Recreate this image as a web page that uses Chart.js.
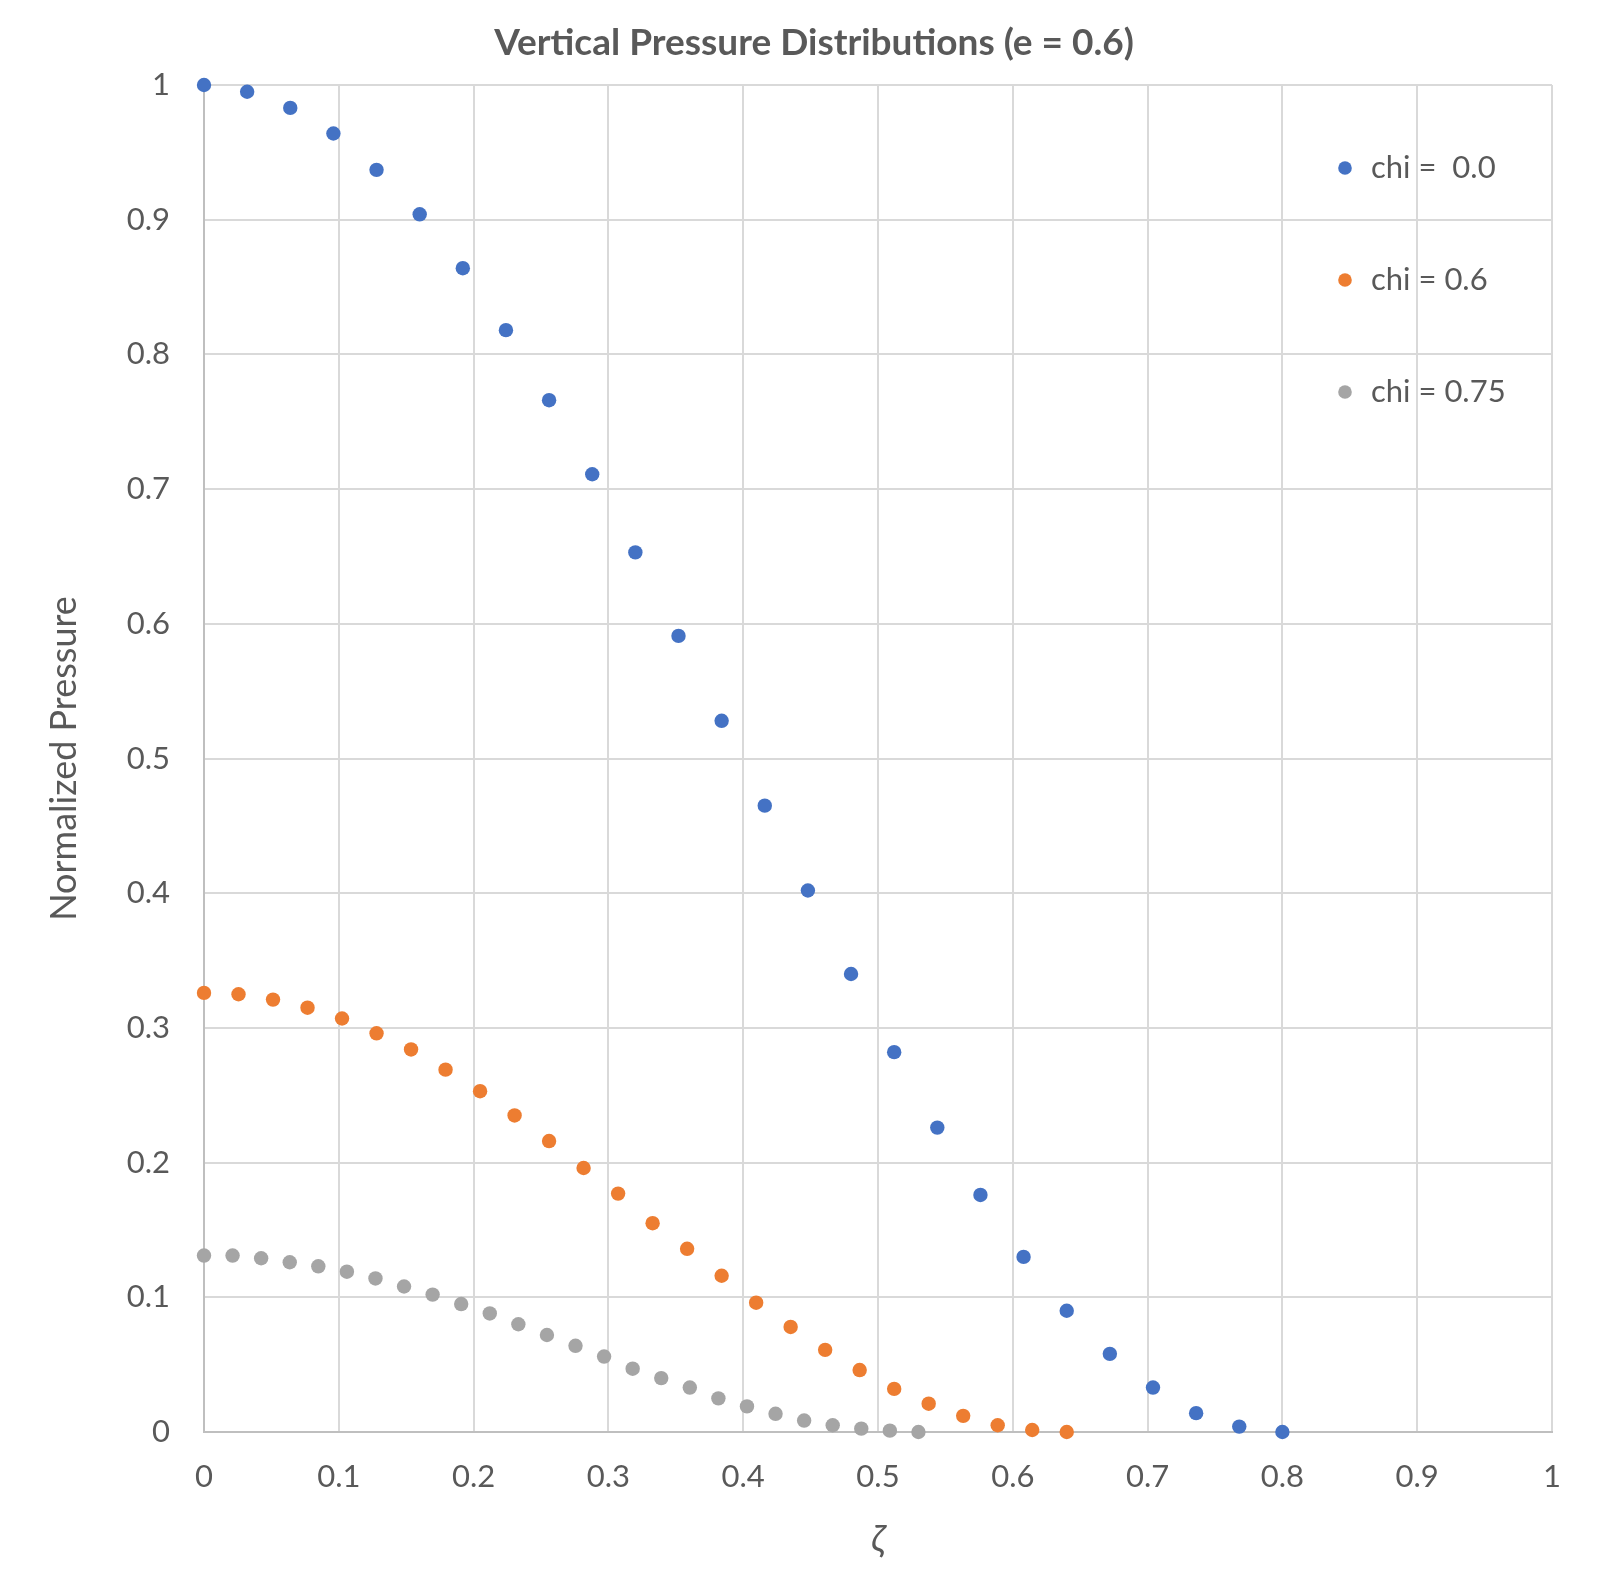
<!DOCTYPE html>
<html>
<head>
<meta charset="utf-8">
<script src="https://cdn.jsdelivr.net/npm/chart.js@4"></script>
<style>
    html, body { margin: 0; padding: 0; background: #fff; }
    #chart { display: block; }
</style>
</head>
<body>
<canvas id="chart" width="1610" height="1592"></canvas>
<script>
    const seriesLabels = ['chi =  0.0', 'chi = 0.6', 'chi = 0.75'];
    const seriesColors = ['#4472C4', '#ED7D31', '#A5A5A5'];

    const chi00X = [0, 0.032, 0.064, 0.096, 0.128, 0.16, 0.192, 0.224, 0.256, 0.288, 0.32, 0.352, 0.384,
        0.416, 0.448, 0.48, 0.512, 0.544, 0.576, 0.608, 0.64, 0.672, 0.704, 0.736, 0.768, 0.8];
    const chi00Y = [1.0, 0.995, 0.983, 0.964, 0.937, 0.904, 0.864, 0.818, 0.766, 0.711, 0.653, 0.591, 0.528,
        0.465, 0.402, 0.340, 0.282, 0.226, 0.176, 0.130, 0.090, 0.058, 0.033, 0.014, 0.004, 0.0];

    const chi06X = [0, 0.0256, 0.0512, 0.0768, 0.1024, 0.128, 0.1536, 0.1792, 0.2048, 0.2304, 0.256, 0.2816, 0.3072,
        0.3328, 0.3584, 0.384, 0.4096, 0.4352, 0.4608, 0.4864, 0.512, 0.5376, 0.5632, 0.5888, 0.6144, 0.64];
    const chi06Y = [0.326, 0.325, 0.321, 0.315, 0.307, 0.296, 0.284, 0.269, 0.253, 0.235, 0.216, 0.196, 0.177,
        0.155, 0.136, 0.116, 0.096, 0.078, 0.061, 0.046, 0.032, 0.021, 0.012, 0.005, 0.0015, 0];

    const chi075X = [0, 0.0212, 0.0424, 0.0636, 0.0848, 0.106, 0.1272, 0.1484, 0.1696, 0.1908, 0.212, 0.2332, 0.2544,
        0.2756, 0.2968, 0.318, 0.3392, 0.3604, 0.3816, 0.4028, 0.424, 0.4452, 0.4664, 0.4876, 0.5088, 0.53];
    const chi075Y = [0.131, 0.131, 0.129, 0.126, 0.123, 0.119, 0.114, 0.108, 0.102, 0.095, 0.088, 0.080, 0.072,
        0.064, 0.056, 0.047, 0.040, 0.033, 0.025, 0.019, 0.0135, 0.0085, 0.005, 0.0025, 0.001, 0];

    const xTickLabels = ['0', '0.1', '0.2', '0.3', '0.4', '0.5', '0.6', '0.7', '0.8', '0.9', '1'];
    const yTickLabels = ['0', '0.1', '0.2', '0.3', '0.4', '0.5', '0.6', '0.7', '0.8', '0.9', '1'];

    const textColor = '#595959';
    const fontFamily = 'Lato, "Open Sans", sans-serif';

    function toPoints(xs, ys) {
        return xs.map((x, i) => ({ x: x, y: ys[i] }));
    }

    // legend sits inside the plot, top right, one entry per row
    const insideLegend = {
        id: 'insideLegend',
        afterDraw(chart) {
            const ctx = chart.ctx;
            const area = chart.chartArea;
            ctx.save();
            ctx.font = '31px ' + fontFamily;
            ctx.textBaseline = 'middle';
            ctx.textAlign = 'left';
            chart.data.datasets.forEach((ds, i) => {
                const y = area.top + 83 + i * 112;
                const x = area.right - 207;
                ctx.beginPath();
                ctx.arc(x, y, 6.8, 0, Math.PI * 2);
                ctx.fillStyle = ds.backgroundColor;
                ctx.fill();
                ctx.fillStyle = textColor;
                ctx.fillText(ds.label, x + 26, y);
            });
            ctx.restore();
        },
    };

    const gridColor = '#D9D9D9';
    const axisColor = '#BFBFBF';

    new Chart(document.getElementById('chart'), {
        type: 'scatter',
        data: {
            datasets: [
                { label: seriesLabels[0], data: toPoints(chi00X, chi00Y) },
                { label: seriesLabels[1], data: toPoints(chi06X, chi06Y) },
                { label: seriesLabels[2], data: toPoints(chi075X, chi075Y) },
            ].map((ds, i) => Object.assign(ds, {
                backgroundColor: seriesColors[i],
                borderColor: seriesColors[i],
                pointRadius: 7.2,
                pointHoverRadius: 7.2,
                pointBorderWidth: 0,
                showLine: false,
                clip: false,
            })),
        },
        options: {
            responsive: false,
            animation: false,
            devicePixelRatio: 1,
            // left padding keeps the title centred like the original; y scale width is trimmed to match
            layout: { padding: { top: 0, right: 58, bottom: 0, left: 76 } },
            plugins: {
                legend: { display: false },
                tooltip: { enabled: false },
                title: {
                    display: true,
                    text: 'Vertical Pressure Distributions (e = 0.6)',
                    color: textColor,
                    font: { family: fontFamily, size: 37, weight: 'bold', lineHeight: 1.2 },
                    padding: { top: 21, bottom: 19.6 },
                },
            },
            scales: {
                x: {
                    type: 'linear',
                    min: 0,
                    max: 1,
                    afterFit: (scale) => { scale.height = 160; },
                    afterBuildTicks: (scale) => {
                        scale.ticks = xTickLabels.map((t) => ({ value: parseFloat(t) }));
                    },
                    ticks: {
                        color: textColor,
                        font: { family: fontFamily, size: 31 },
                        padding: 26,
                        maxRotation: 0,
                        callback: (value, index) => xTickLabels[index],
                    },
                    grid: { color: gridColor, lineWidth: 2, drawTicks: false },
                    border: { color: axisColor, width: 2 },
                    title: {
                        display: true,
                        text: 'ζ',
                        color: textColor,
                        font: { family: fontFamily, size: 37, style: 'italic', lineHeight: 1.2 },
                        padding: { top: 0, bottom: 31 },
                    },
                },
                y: {
                    type: 'linear',
                    min: 0,
                    max: 1,
                    afterFit: (scale) => { scale.width = 128; },
                    afterBuildTicks: (scale) => {
                        scale.ticks = yTickLabels.map((t) => ({ value: parseFloat(t) }));
                    },
                    ticks: {
                        color: textColor,
                        font: { family: fontFamily, size: 31 },
                        padding: 34,
                        callback: (value, index) => yTickLabels[index],
                    },
                    grid: { color: gridColor, lineWidth: 2, drawTicks: false },
                    border: { color: axisColor, width: 2 },
                    title: {
                        display: true,
                        text: 'Normalized Pressure',
                        color: textColor,
                        font: { family: fontFamily, size: 36, lineHeight: 1.2 },
                        padding: { top: -33.6, bottom: 0 },
                    },
                },
            },
        },
        plugins: [insideLegend],
    });
</script>
</body>
</html>
